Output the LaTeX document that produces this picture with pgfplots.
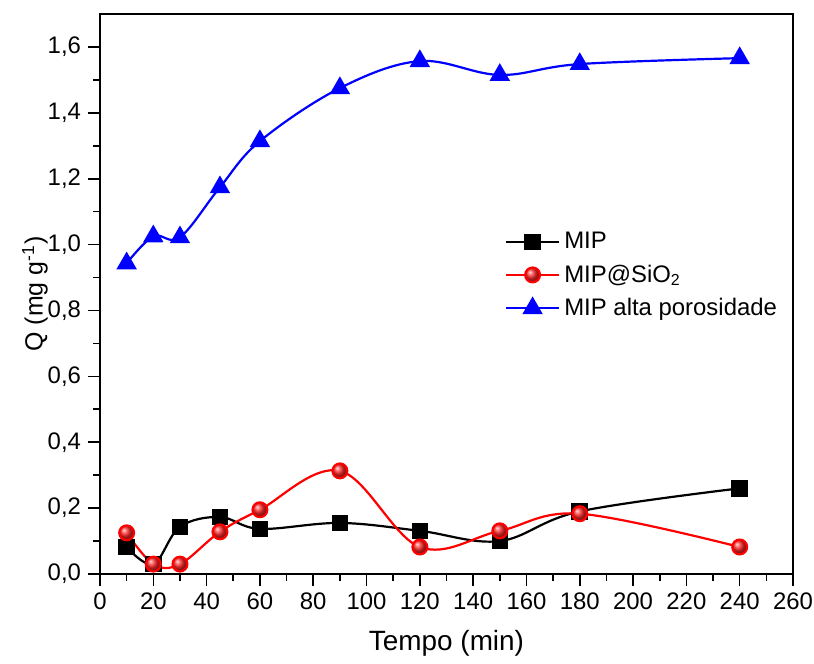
\documentclass[border=0pt]{standalone}
\usepackage{graphicx}
\usepackage{pgfplots}
\pgfplotsset{compat=1.18}
\usepackage{fontspec}
\setmainfont{Liberation Sans}
\begin{document}
\begin{tikzpicture}
\begin{axis}[
  scale only axis,
  width=346.5bp, height=280bp,
  xmin=0, xmax=260, ymin=0, ymax=1.7,
  xtick={0,20,...,260},
  ytick={0,0.2,...,1.6},
  minor x tick num=1,
  minor y tick num=1,
  tick align=outside,
  xtick pos=bottom, ytick pos=left,
  major tick length=6bp, minor tick length=3.5bp,
  every tick/.style={black, line width=0.8bp},
  axis line style={line width=0.9bp},
  /pgf/number format/assume math mode=true,
  yticklabel style={/pgf/number format/.cd, fixed, fixed zerofill, precision=1, use comma},
  ticklabel style={font=\fontsize{12}{14}\selectfont},
  xlabel={Tempo (min)},
  xlabel style={at={(axis description cs:0.5,-0.1232)}, anchor=center, font=\fontsize{14}{16}\selectfont},
  ylabel={Q (mg g\textsuperscript{-1})},
  ylabel style={at={(axis description cs:-0.0938,0.5)}, anchor=center, font=\fontsize{12.5}{15}\selectfont},
  legend style={draw=none, fill=none, at={(rel axis cs:0.575,0.625)}, anchor=north west,
    font=\fontsize{12}{14}\selectfont, row sep=2.5bp},
  legend cell align=left,
  legend image code/.code={\draw[mark repeat=2,mark phase=2] plot coordinates {(0cm,0cm) (0.47cm,0cm) (0.94cm,0cm)};},
]
\addplot[black, line width=1.1bp, smooth, tension=0.6, mark=square*, mark size=3.6bp, mark options={solid}] coordinates {
(10,0.082)(20,0.03)(30,0.143)(45,0.173)(60,0.137)(90,0.155)(120,0.131)(150,0.10)(180,0.19)(240,0.26)};
\addlegendentry{MIP}
\addplot[red, line width=1.1bp, smooth, tension=0.6, mark=ball, mark size=3.7bp, mark options={ball color=red!85!white}] coordinates {
(10,0.125)(20,0.03)(30,0.03)(45,0.128)(60,0.195)(90,0.313)(120,0.082)(150,0.131)(180,0.183)(240,0.082)};
\addlegendentry{MIP@SiO\textsubscript{2}}
\addplot[blue, line width=1.1bp, smooth, tension=0.6, mark=triangle*, mark size=4.8bp, mark options={solid, fill=blue}] coordinates {
(10,0.943)(20,1.025)(30,1.022)(45,1.174)(60,1.314)(90,1.475)(120,1.557)(150,1.515)(180,1.548)(240,1.566)};
\addlegendentry{MIP alta porosidade}
\end{axis}
\pgfresetboundingbox
\useasboundingbox (-50bp,-45bp) rectangle (357bp,287bp);
\end{tikzpicture}
\end{document}
